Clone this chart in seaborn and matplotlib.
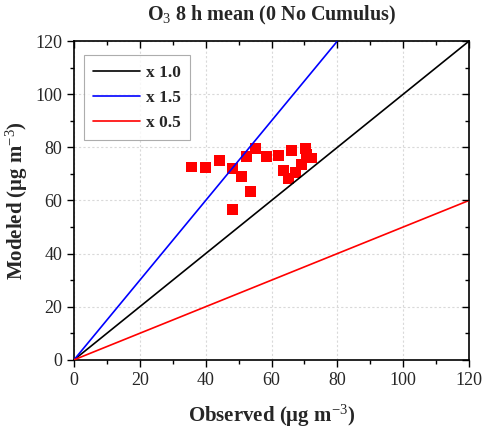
import numpy as np
import pandas as pd
import seaborn as sns
import matplotlib.pyplot as plt
from matplotlib.ticker import MultipleLocator

# observed vs modeled O3 (ug m-3)
observed = [35.8, 40.0, 44.1, 48.1, 48.2, 50.8, 52.5, 53.5, 55.2, 58.6,
            62.1, 63.6, 65.1, 66.2, 67.2, 69.2, 70.2, 72.2, 70.5]
modeled = [72.6, 72.5, 75.0, 72.2, 56.7, 69.1, 76.4, 63.5, 79.5, 76.4,
           77.1, 71.2, 68.3, 78.9, 70.5, 73.4, 79.6, 76.0, 77.3]

# reference lines
ref_x = [0, 120]
ref_factors = [1.0, 1.5, 0.5]
ref_labels = ["x 1.0", "x 1.5", "x 0.5"]
ref_colors = ["black", "blue", "red"]

sns.set_theme(style="white")
plt.rcParams["font.family"] = ["Liberation Serif", "DejaVu Serif"]
plt.rcParams["mathtext.fontset"] = "custom"
plt.rcParams["mathtext.rm"] = "Liberation Serif"
plt.rcParams["mathtext.bf"] = "Liberation Serif:bold"
plt.rcParams["mathtext.it"] = "Liberation Serif:italic"

fig = plt.figure(figsize=(4.87, 4.33), dpi=100)
ax = fig.add_axes([0.152, 0.169, 0.811, 0.736])

df_pts = pd.DataFrame({"obs": observed, "mod": modeled})
sns.scatterplot(data=df_pts, x="obs", y="mod", marker="s", s=62, color="red",
                edgecolor="none", linewidth=0, ax=ax, zorder=2)

for f, lab, col in zip(ref_factors, ref_labels, ref_colors):
    df_line = pd.DataFrame({"x": ref_x, "y": [v * f for v in ref_x]})
    sns.lineplot(data=df_line, x="x", y="y", color=col, linewidth=1.2,
                 label=lab, ax=ax, zorder=3)

ax.set_xlim(0, 120)
ax.set_ylim(0, 120)
ax.xaxis.set_major_locator(MultipleLocator(20))
ax.yaxis.set_major_locator(MultipleLocator(20))
ax.xaxis.set_minor_locator(MultipleLocator(10))
ax.yaxis.set_minor_locator(MultipleLocator(10))
ax.tick_params(which="both", direction="out", bottom=True, left=True,
               top=False, right=False, labelsize=13, color="black")
ax.tick_params(which="major", length=5, width=1)
ax.tick_params(which="minor", length=3, width=1)
for s in ax.spines.values():
    s.set_color("black")
    s.set_linewidth(1.2)

ax.grid(True, which="major", color="#d9d9d9", linestyle=(0, (2, 2)), linewidth=0.8)
ax.set_axisbelow(True)

ax.set_title(r"O$_3$ 8 h mean (0 No Cumulus)", fontsize=14.5, fontweight="bold", pad=15)
ax.set_xlabel(r"Observed ($\mathbf{\mu}$g m$^{-3}$)", fontsize=15, fontweight="bold", labelpad=10)
ax.set_ylabel(r"Modeled ($\mathbf{\mu}$g m$^{-3}$)", fontsize=15, fontweight="bold", labelpad=4)

leg = ax.legend(loc="upper left", bbox_to_anchor=(0.025, 0.955), fancybox=False,
                frameon=True, edgecolor="#999999", handlelength=2.7, handletextpad=0.3,
                borderpad=0.55, labelspacing=0.5, borderaxespad=0,
                prop={"weight": "bold", "size": 12.5})
leg.get_frame().set_linewidth(0.8)

# mirrored inward ticks on top and right (no labels)
top_ax = fig.add_axes(ax.get_position(), frameon=False, sharex=ax, sharey=ax)
top_ax.tick_params(which="both", direction="in", top=True, right=True,
                   bottom=False, left=False, labeltop=False, labelright=False,
                   labelbottom=False, labelleft=False, color="black")
top_ax.tick_params(which="major", length=5, width=1)
top_ax.tick_params(which="minor", length=3, width=1)
top_ax.patch.set_visible(False)
top_ax.grid(False)

fig.savefig("out.png", dpi=100)
